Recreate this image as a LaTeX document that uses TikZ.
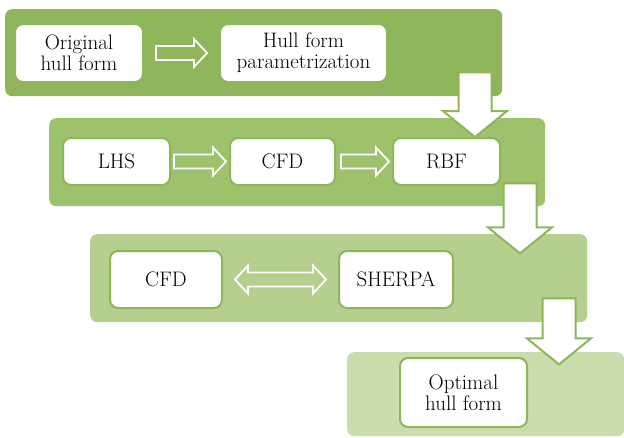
\documentclass[tikz,border=0pt]{standalone}
\usetikzlibrary{calc}
\definecolor{pA}{HTML}{8EB55A}
\definecolor{pB}{HTML}{9EC16C}
\definecolor{pC}{HTML}{B4CF8E}
\definecolor{pD}{HTML}{C9DDAD}
\definecolor{bord}{HTML}{8DB65A}
\tikzset{
  panel/.style={rounded corners=7pt, inner sep=0pt, anchor=north west},
  box/.style={draw=bord, line width=2pt, fill=white, rounded corners=8pt, inner sep=0pt,
    align=center, font=\fontsize{21}{21}\selectfont},
  harr/.style={fill=#1, draw=white, line width=1.8pt, line join=miter},
  varr/.style={fill=white, draw=bord, line width=2pt, line join=miter},
}
% horizontal block arrow from #2 to #3 (fill #1)
\newcommand{\hblock}[3]{%
  \draw[harr=#1] ($#2+(0,-7)$) -- ($#3+(-13,-7)$) -- ($#3+(-13,-14)$) -- #3
    -- ($#3+(-13,14)$) -- ($#3+(-13,7)$) -- ($#2+(0,7)$) -- cycle;}
% double block arrow
\newcommand{\dblock}[3]{%
  \draw[harr=#1] #2 -- ($#2+(13,-14)$) -- ($#2+(13,-7)$) -- ($#3+(-13,-7)$) -- ($#3+(-13,-14)$) -- #3
    -- ($#3+(-13,14)$) -- ($#3+(-13,7)$) -- ($#2+(13,7)$) -- ($#2+(13,14)$) -- cycle;}
% vertical block arrow from top #1 to tip #2
\newcommand{\vblock}[2]{%
  \draw[varr] ($#1+(-16.5,0)$) -- ($#2+(-16.5,-26)$) -- ($#2+(-32,-26)$) -- #2
    -- ($#2+(32,-26)$) -- ($#2+(16.5,-26)$) -- ($#1+(16.5,0)$) -- cycle;}
\begin{document}
\begin{tikzpicture}[x=1pt,y=-1pt]
\useasboundingbox (0,0) rectangle (624,437);
% panels
\node[panel, fill=pA, minimum width=497pt, minimum height=87pt] (p1) at (5,9) {};
\node[panel, fill=pB, minimum width=496pt, minimum height=88pt] (p2) at (49,118) {};
\node[panel, fill=pC, minimum width=497pt, minimum height=88pt] (p3) at (90,234) {};
\node[panel, fill=pD, minimum width=277pt, minimum height=84pt] (p4) at (347,352) {};
% boxes
\node[box, minimum width=128pt, minimum height=58pt] (orig) at (79,53) {Original\\hull form};
\node[box, minimum width=167pt, minimum height=58pt] (hfp) at (303.5,53) {Hull form\\parametrization};
\node[box, minimum width=107pt, minimum height=47pt] (lhs) at (116.5,161.5) {LHS};
\node[box, minimum width=105pt, minimum height=47pt] (cfd) at (282.5,161.5) {CFD};
\node[box, minimum width=107pt, minimum height=47pt] (rbf) at (446.5,161.5) {RBF};
\node[box, minimum width=112pt, minimum height=57pt] (cfdb) at (166,279.5) {CFD};
\node[box, minimum width=114pt, minimum height=57pt] (sherpa) at (396,279.5) {SHERPA};
\node[box, minimum width=127pt, minimum height=69pt] (opt) at (463.5,392.5) {Optimal\\hull form};
% horizontal arrows
\hblock{pA}{($(orig.east)+(12,0)$)}{($(hfp.west)+(-12,0)$)}
\hblock{pB}{($(lhs.east)+(3,0)$)}{($(cfd.west)+(-3,0)$)}
\hblock{pB}{($(cfd.east)+(5,0)$)}{($(rbf.west)+(-3,0)$)}
\dblock{pC}{($(cfdb.east)+(12,0)$)}{($(sherpa.west)+(-12,0)$)}
% vertical arrows
\coordinate (a1s) at ($(p1.south west)+(470,-24)$);
\coordinate (a1e) at (a1s |- rbf.north);
\coordinate (a2s) at ($(p2.south west)+(471,-23)$);
\coordinate (a2e) at ($(a2s)+(0,70)$);
\coordinate (a3s) at ($(p3.south west)+(469,-24)$);
\coordinate (a3e) at ($(a3s)+(0,66)$);
\vblock{(a1s)}{(a1e)}
\vblock{(a2s)}{(a2e)}
\vblock{(a3s)}{(a3e)}
\end{tikzpicture}
\end{document}
